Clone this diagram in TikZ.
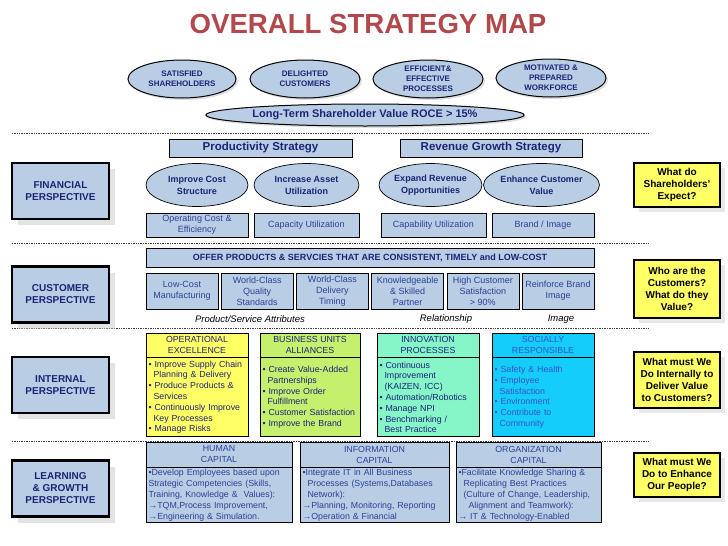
\documentclass[tikz,border=0pt]{standalone}
\usepackage{fontspec}
\setmainfont{Liberation Sans}
\usepackage{xcolor}
\usepackage{tikz}
\usetikzlibrary{shapes.geometric,shadows,positioning}

\definecolor{titlered}{RGB}{176,72,76}
\definecolor{navy}{RGB}{28,36,118}
\definecolor{boxblue}{RGB}{185,205,229}
\definecolor{txtblue}{RGB}{44,66,150}
\definecolor{qyellow}{RGB}{255,255,102}
\definecolor{grnfill}{RGB}{196,240,110}
\definecolor{mintfill}{RGB}{134,245,200}
\definecolor{cyanfill}{RGB}{20,205,250}
\definecolor{cyantext}{RGB}{50,85,200}

\newcommand\ind{\hspace*{5pt}}

\begin{document}
\begin{tikzpicture}[x=1pt, y=-1pt,
        persp/.style={draw, line width=2.4pt, fill=boxblue, minimum width=97, minimum height=56, align=center,
            text=navy, font=\fontsize{10}{12}\selectfont\bfseries,
            drop shadow={shadow xshift=6pt, shadow yshift=-6pt, fill=black!22}},
        quest/.style={draw, line width=2pt, fill=qyellow, minimum width=86, minimum height=44, align=center,
            font=\fontsize{10}{12}\selectfont\bfseries,
            drop shadow={shadow xshift=5pt, shadow yshift=-5pt, fill=black!18}},
        topell/.style={ellipse, draw, line width=1pt, fill=boxblue, inner sep=0pt, minimum width=110, minimum height=38,
            align=center, text=navy, font=\fontsize{8}{9.8}\selectfont\bfseries,
            drop shadow={shadow xshift=2pt, shadow yshift=-2pt, fill=black!25}},
        goalell/.style={ellipse, draw, line width=0.7pt, fill=boxblue, inner sep=0pt, minimum width=103, minimum height=43,
            align=center, text=navy, font=\fontsize{9}{12}\selectfont\bfseries},
        strat/.style={draw, line width=0.7pt, fill=boxblue, minimum height=18, inner sep=0pt, text=navy,
            font=\fontsize{11.5}{13}\selectfont\bfseries},
        measure/.style={draw, line width=0.6pt, fill=boxblue, minimum height=24, inner sep=1pt, align=center,
            text=txtblue, font=\fontsize{9}{10.8}\selectfont},
        attr/.style={measure, minimum width=72, minimum height=36},
        head/.style={draw, line width=0.8pt, minimum height=24, inner sep=0pt, align=center,
            font=\fontsize{8.8}{11}\selectfont},
        body/.style={draw, line width=0.8pt, inner xsep=2.5pt, inner ysep=1pt, align=left,
            font=\fontsize{8.8}{10.8}\selectfont},
        note/.style={font=\fontsize{9.5}{11}\selectfont\itshape},
        sep/.style={line width=0.9pt, dash pattern=on 0.8pt off 0.9pt, black!75}]

            \useasboundingbox (0,0) rectangle (728,546);

            \node[anchor=base, text=titlered, font=\fontsize{27.6}{30}\selectfont\bfseries] (title) at (368,33) {OVERALL STRATEGY MAP};

            \node[topell, minimum width=108] (share) at (182,79) {SATISFIED\\SHAREHOLDERS};
            \node[topell] (cust) at (305,79) {DELIGHTED\\CUSTOMERS};
            \node[topell] (proc) at (428,79) {EFFICIENT\&\\EFFECTIVE\\PROCESSES};
            \node[topell] (work) at (551,78) {MOTIVATED \&\\PREPARED\\WORKFORCE};
            \node[topell, minimum width=318, minimum height=22, font=\fontsize{11}{13}\selectfont\bfseries] (roce) at (365,115) {Long-Term Shareholder Value ROCE > 15\%};

            \draw[sep] (12,133) -- (648,133);
            \draw[sep] (12,243) -- (648,243);
            \draw[sep] (12,328) -- (648,328);
            \draw[sep] (12,441) -- (648,441);

            \node[persp] (fin) at (60.5,191) {FINANCIAL\\PERSPECTIVE};
            \node[strat, minimum width=183] (prod) at (260.5,148) {Productivity Strategy};
            \node[strat, minimum width=182] (rev) at (491,148) {Revenue Growth Strategy};
            \node[goalell, minimum width=102] (cost) at (197,185) {Improve Cost\\Structure};
            \node[goalell, minimum width=105] (asset) at (306.5,185) {Increase Asset\\Utilization};
            \node[goalell] (expand) at (430.5,185) {Expand Revenue\\Opportunities};
            \node[goalell, minimum width=105] (enhance) at (541.5,185) {Enhance Customer\\Value};
            \node[measure, minimum width=102] (opcost) at (197,225) {Operating Cost \&\\Efficiency};
            \node[measure, minimum width=105] (capac) at (306.5,225) {Capacity Utilization};
            \node[measure, minimum width=105] (capab) at (433.5,225) {Capability Utilization};
            \node[measure, minimum width=102] (brand) at (543,225) {Brand / Image};
            \node[quest] (q1) at (677,185) {What do\\Shareholders'\\Expect?};

            \node[persp] (custp) at (60.5,294.5) {CUSTOMER\\PERSPECTIVE};
            \node[measure, minimum width=448, minimum height=19, text=navy, font=\fontsize{9}{11}\selectfont\bfseries] (offer) at (370,257.5) {OFFER PRODUCTS \& SERVCIES THAT ARE CONSISTENT, TIMELY and LOW-COST};
            \node[attr] (lowcost) at (182,291) {Low-Cost\\Manufacturing};
            \node[attr] (quality) at (257.2,291) {World-Class\\Quality\\Standards};
            \node[attr] (timing) at (332.4,291) {World-Class\\Delivery\\Timing};
            \node[attr] (partner) at (407.6,291) {Knowledgeable\\\& Skilled\\Partner};
            \node[attr] (satisf) at (482.8,291) {High Customer\\Satisfaction\\> 90\%};
            \node[attr] (reinf) at (558,291) {Reinforce Brand\\Image};
            \node[note] (attrl) at (250,319) {Product/Service Attributes};
            \node[note] (rell) at (446,319) {Relationship};
            \node[note] (imgl) at (561,319) {Image};
            \node[quest, minimum height=58] (q2) at (677,289) {Who are the\\Customers?\\What do they\\Value?};

            \node[persp] (intp) at (60.5,385) {INTERNAL\\PERSPECTIVE};
            \node[head, fill=qyellow, minimum width=102, text=navy] (opex) at (197,345) {OPERATIONAL\\EXCELLENCE};
            \node[body, fill=qyellow, text width=97, minimum height=79, anchor=north, text=navy] (opexb) at (opex.south) {• Improve Supply Chain\\\ind Planning \& Delivery\\• Produce Products \&\\\ind Services\\• Continuously Improve\\\ind Key Processes\\• Manage Risks};
            \node[head, fill=grnfill, minimum width=100, text=navy] (bua) at (310,345) {BUSINESS UNITS\\ALLIANCES};
            \node[body, fill=grnfill, text width=95, minimum height=79, anchor=north, text=navy] (buab) at (bua.south) {• Create Value-Added\\\ind Partnerships\\• Improve Order\\\ind Fulfillment\\• Customer Satisfaction\\• Improve the Brand};
            \node[head, fill=mintfill, minimum width=102, text=navy] (innov) at (428,345) {INNOVATION\\PROCESSES};
            \node[body, fill=mintfill, text width=97, minimum height=79, anchor=north, text=navy] (innovb) at (innov.south) {• Continuous\\\ind Improvement\\\ind (KAIZEN, ICC)\\• Automation/Robotics\\• Manage NPI\\• Benchmarking /\\\ind Best Practice};
            \node[head, fill=cyanfill, minimum width=102, text=cyantext] (social) at (543,345) {SOCIALLY\\RESPONSIBLE};
            \node[body, fill=cyanfill, text width=97, minimum height=79, anchor=north, text=cyantext] (socialb) at (social.south) {• Safety \& Health\\• Employee\\\ind Satisfaction\\• Environment\\• Contribute to\\\ind Community};
            \node[quest, minimum height=56] (q3) at (677,380) {What must We\\Do Internally to\\Deliver Value\\to Customers?};

            \node[persp] (learn) at (60.5,488.5) {LEARNING\\\& GROWTH\\PERSPECTIVE};
            \node[head, fill=boxblue, minimum width=146, minimum height=25, text=txtblue] (human) at (219,454.5) {HUMAN\\CAPITAL};
            \node[body, fill=boxblue, text width=141, minimum height=55, anchor=north, text=txtblue] (humanb) at (human.south) {•Develop Employees based upon\\ Strategic Competencies (Skills,\\Training, Knowledge \&~ Values):\\→TQM,Process Improvement,\\→Engineering \& Simulation.};
            \node[head, fill=boxblue, minimum width=149, minimum height=25, text=txtblue] (info) at (374.5,454.5) {INFORMATION\\CAPITAL};
            \node[body, fill=boxblue, text width=144, minimum height=55, anchor=north, text=txtblue] (infob) at (info.south) {•Integrate IT in All Business\\\ind Processes (Systems,Databases\\\ind Network):\\→Planning, Monitoring, Reporting\\→Operation \& Financial};
            \node[head, fill=boxblue, minimum width=145, minimum height=25, text=txtblue] (org) at (528.5,454.5) {ORGANIZATION\\CAPITAL};
            \node[body, fill=boxblue, text width=140, minimum height=55, anchor=north, text=txtblue] (orgb) at (org.south) {•Facilitate Knowledge Sharing \&\\\ind Replicating Best Practices\\\ind (Culture of Change, Leadership,\\\ind\ind Alignment and Teamwork):\\→ IT \& Technology-Enabled};
            \node[quest] (q4) at (677,475) {What must We\\Do to Enhance\\Our People?};
        \end{tikzpicture}
\end{document}
